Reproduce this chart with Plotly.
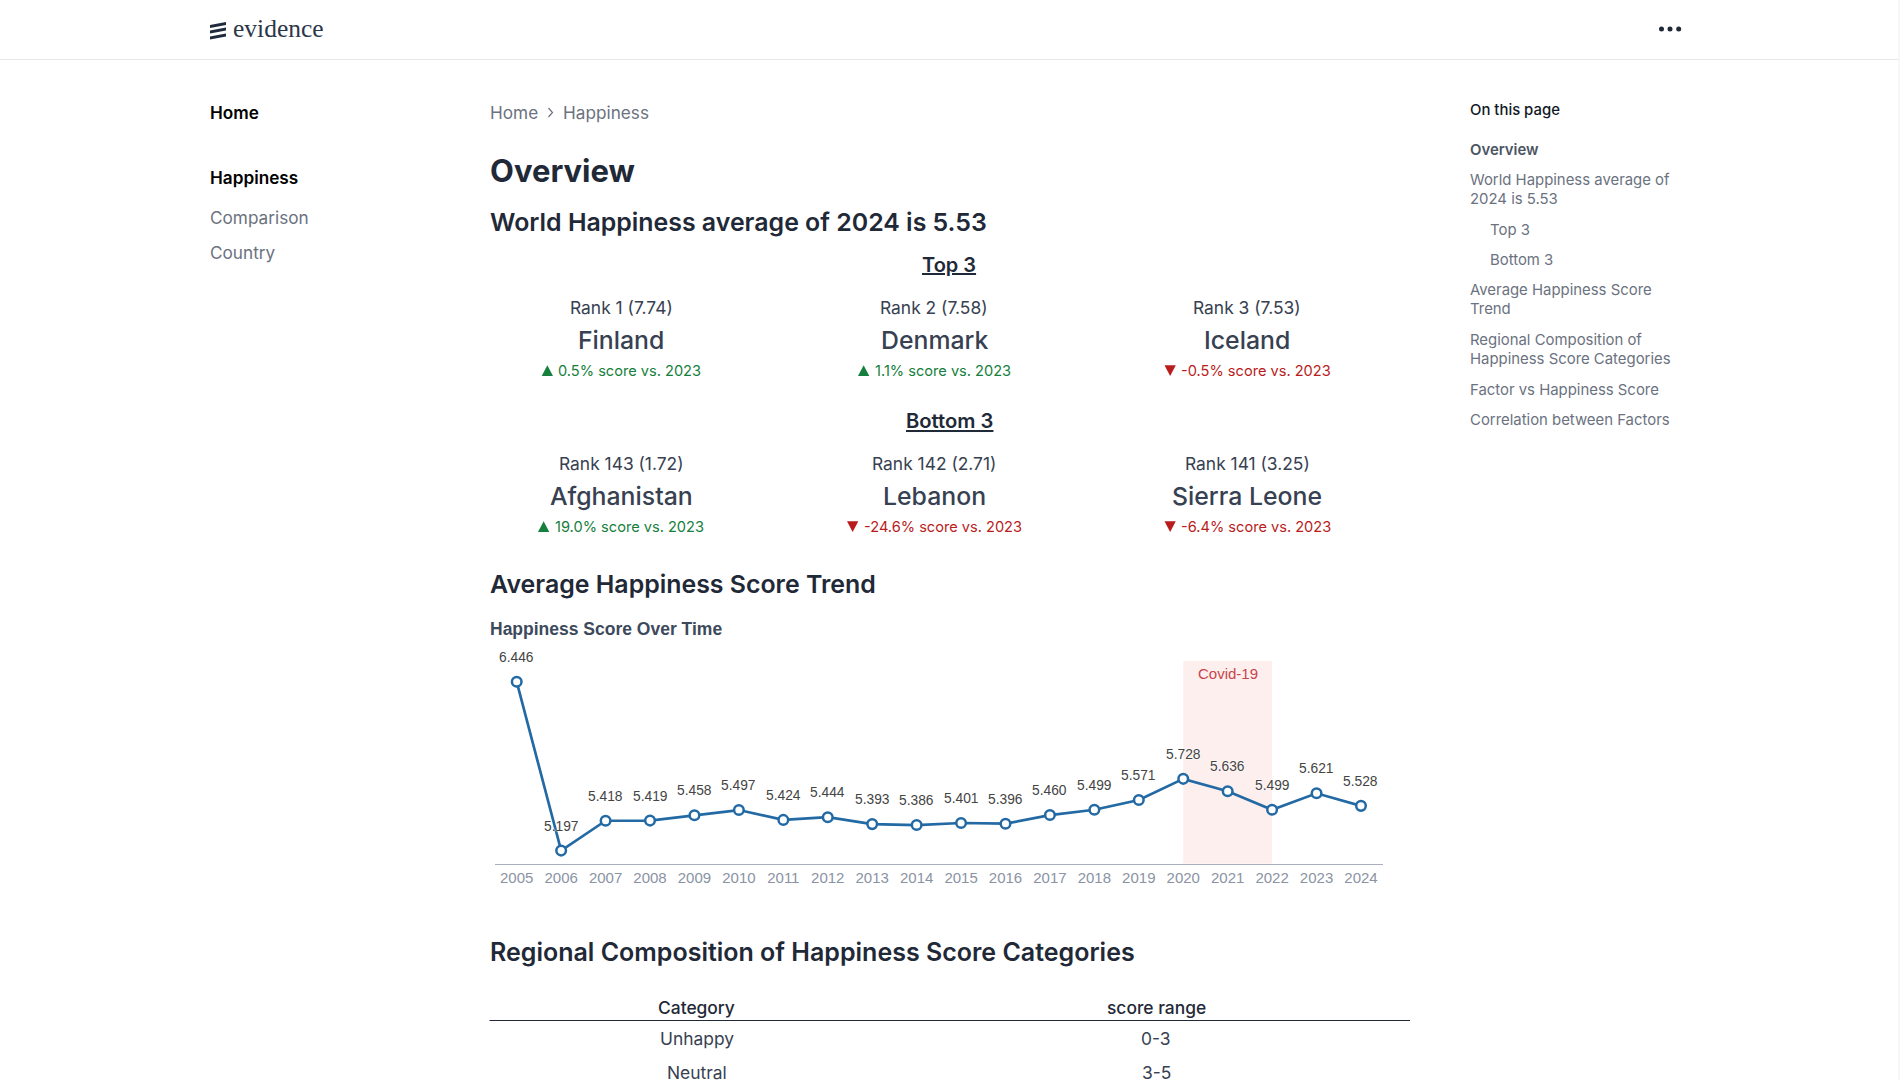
import plotly.graph_objects as go

W, H = 1900, 1080

years = [str(y) for y in [2005,2006,2007,2008,2009,2010,2011,2012,2013,2014,2015,2016,2017,2018,2019,2020,2021,2022,2023,2024]]
scores = [6.446,5.197,5.418,5.419,5.458,5.497,5.424,5.444,5.393,5.386,5.401,5.396,5.460,5.499,5.571,5.728,5.636,5.499,5.621,5.528]
covid_start, covid_mid, covid_end = "2020", "2021", "2022"

top_ranks = ["Rank 1 (7.74)", "Rank 2 (7.58)", "Rank 3 (7.53)"]
top_names = ["Finland", "Denmark", "Iceland"]
top_deltas = [0.5, 1.1, -0.5]
bottom_ranks = ["Rank 143 (1.72)", "Rank 142 (2.71)", "Rank 141 (3.25)"]
bottom_names = ["Afghanistan", "Lebanon", "Sierra Leone"]
bottom_deltas = [19.0, -24.6, -6.4]

table_header = ["Category", "score range"]
table_categories = ["Unhappy", "Neutral"]
table_ranges = ["0-3", "3-5"]

toc_items = ["Overview", "World Happiness average of<br>2024 is 5.53", "Top 3", "Bottom 3",
             "Average Happiness Score<br>Trend", "Regional Composition of<br>Happiness Score Categories",
             "Factor vs Happiness Score", "Correlation between Factors"]

INTER = "Inter"
ARIAL = "Liberation Sans"
INK = "#1f2937"
BODY = "#374151"
GREY = "#6b7280"
GREEN = "#15803d"
RED = "#b91c1c"
BLUE = "#236aa4"

annotations, shapes = [], []

def label(x, y, text, size, color, weight=400, anchor="left", family=INTER, **font_extra):
    annotations.append(dict(
        x=x / W, y=1 - y / H, xref="paper", yref="paper", text=text, showarrow=False,
        xanchor=anchor, yanchor="middle", align=anchor, borderpad=0, borderwidth=0,
        font=dict(family=family, size=size, color=color, weight=weight, **font_extra)))

def px_path(path, fill):
    shapes.append(dict(type="path", path=path, xref="paper", yref="paper", fillcolor=fill,
                       line=dict(width=0), layer="above"))

def P(x, y):
    return f"{x / W:.5f},{1 - y / H:.5f}"

def hline(x0, x1, y, color, width):
    shapes.append(dict(type="line", xref="paper", yref="paper", x0=x0 / W, x1=x1 / W,
                       y0=1 - y / H, y1=1 - y / H, line=dict(color=color, width=width)))

# header
hline(0, 1898, 59.5, "#e5e7eb", 1.2)
shapes.append(dict(type="line", xref="paper", yref="paper", x0=1899 / W, x1=1899 / W, y0=0, y1=1,
                   line=dict(color="#efefef", width=1)))
for yy in (25, 30.5, 36.5):
    px_path("M " + P(210, yy) + " L " + P(218, yy - 1.5) + " L " + P(226, yy - 3) + " L " + P(226, yy)
            + " L " + P(218, yy + 1.5) + " L " + P(210, yy + 3) + " Z", "#1f2b3d")
label(233, 28.5, "evidence", 25.5, "#2b3648", family="Liberation Serif")
for cx in (1661.5, 1670, 1678.7):
    shapes.append(dict(type="circle", xref="paper", yref="paper", x0=(cx - 2.5) / W, x1=(cx + 2.5) / W,
                       y0=1 - 31.5 / H, y1=1 - 26.5 / H, fillcolor="#1f2937", line=dict(width=0)))

# left nav
label(209.6, 112.7, "Home", 17.2, "#000000", 600)
label(209.6, 177.5, "Happiness", 17.2, "#000000", 600)
label(209.6, 218, "Comparison", 17.2, GREY)
label(209.6, 252, "Country", 17.2, GREY)

# breadcrumb and headings
label(489.5, 112.7, "Home", 17.2, GREY)
label(563, 112.7, "Happiness", 17.2, GREY)
px_path("M " + P(548.5, 108) + " L " + P(552.5, 112.5) + " L " + P(548.5, 117), "rgba(0,0,0,0)")
shapes[-1]["line"] = dict(color=GREY, width=1.2)
label(489.5, 170, "Overview", 31, INK, 700)
label(489.5, 222.5, "World Happiness average of 2024 is 5.53", 24.9, INK, 600)
label(949, 264.6, "Top 3", 20, INK, 600, anchor="center", lineposition="under")
label(949, 420.6, "Bottom 3", 20.2, INK, 600, anchor="center", lineposition="under")
label(489.5, 584, "Average Happiness Score Trend", 24.9, INK, 600)
label(489.5, 952, "Regional Composition of Happiness Score Categories", 25, INK, 600)

# KPI cards
centres = [621, 934.2, 1247.4]
tri_left_top = [541.7, 858, 1164.5]
tri_left_bot = [538, 847, 1164.5]

def card(cx, tri_x, rank, name, delta, y_rank):
    y_name, y_delta = y_rank + 32.5, y_rank + 63
    label(cx, y_rank, rank, 17.4, BODY, anchor="center")
    label(cx, y_name, name, 24.8, BODY, 500, anchor="center")
    col = GREEN if delta >= 0 else RED
    if delta >= 0:
        px_path("M " + P(tri_x, y_delta + 5.5) + " L " + P(tri_x + 11.3, y_delta + 5.5) + " L "
                + P(tri_x + 5.65, y_delta - 5.2) + " Z", col)
    else:
        px_path("M " + P(tri_x, y_delta - 5.2) + " L " + P(tri_x + 11.3, y_delta - 5.2) + " L "
                + P(tri_x + 5.65, y_delta + 5.5) + " Z", col)
    label(tri_x + 16.6, y_delta, f"{delta:.1f}% score vs. 2023", 14.6, col)

for i in range(3):
    card(centres[i], tri_left_top[i], top_ranks[i], top_names[i], top_deltas[i], 307.5)
    card(centres[i], tri_left_bot[i], bottom_ranks[i], bottom_names[i], bottom_deltas[i], 463.5)

# table
label(696.7, 1007, table_header[0], 17.4, INK, 500, anchor="center")
label(1156, 1007, table_header[1], 17.4, INK, 500, anchor="center")
hline(489.5, 1410, 1020.5, INK, 1.2)
for yy, c, r in zip((1038.5, 1072.5), table_categories, table_ranges):
    label(696.7, yy, c, 17.4, BODY, anchor="center")
    label(1156, yy, r, 17.4, BODY, anchor="center")

# right TOC
label(1470, 109.8, "On this page", 14.9, "#111827", 500)
toc_y = [149.5, 189.5, 229.5, 259.5, 299.7, 349.5, 389.5, 419.5]
toc_x = [1470, 1470, 1490, 1490, 1470, 1470, 1470, 1470]
for i, t in enumerate(toc_items):
    label(toc_x[i], toc_y[i], t, 14.9, "#4b5563" if i == 0 else GREY, 600 if i == 0 else 400)

# chart title
label(490, 628.5, "Happiness Score Over Time", 17.5, "#3d4a5c", 700, family=ARIAL)

# chart: band, line, labels (category axes take positions as category indices)
shapes.append(dict(type="rect", xref="x", yref="y domain", x0=years.index(covid_start), x1=years.index(covid_end),
                   y0=0, y1=1, fillcolor="#fcefee", line=dict(width=0), layer="below"))
annotations.append(dict(x=years.index(covid_mid), y=1, xref="x", yref="y domain", yshift=-12, text="Covid-19",
                        showarrow=False, xanchor="center", yanchor="middle", borderwidth=0,
                        font=dict(family=ARIAL, size=15, color="#c8444c")))
for i, s in enumerate(scores):
    annotations.append(dict(x=i, y=s, xref="x", yref="y", yshift=24.5, text=f"{s:.3f}", showarrow=False,
                            xanchor="center", yanchor="middle", borderwidth=0,
                            font=dict(family=ARIAL, size=13.8, color="#444444",
                                      shadow="0 0 2px #fff, 0 0 2px #fff")))

fig = go.Figure(go.Scatter(
    x=years, y=scores, mode="lines+markers", cliponaxis=False,
    line=dict(color=BLUE, width=2.7),
    marker=dict(symbol="circle", size=9.6, color="white", line=dict(color=BLUE, width=2.5)),
    hoverinfo="x+y", showlegend=False))

fig.update_layout(
    width=W, height=H, autosize=False, margin=dict(l=0, r=0, t=0, b=0),
    paper_bgcolor="white", plot_bgcolor="rgba(0,0,0,0)", showlegend=False,
    font=dict(family=INTER),
    xaxis=dict(type="category", domain=[494.5 / W, 1383.2 / W], range=[-0.5, 19.5], showgrid=False,
               showline=True, linecolor="#aab0bb", linewidth=1.3, ticks="", zeroline=False,
               tickfont=dict(family=ARIAL, size=15, color="#8a93a3"), tickangle=0, ticklabelstandoff=0),
    yaxis=dict(domain=[1 - 863.7 / H, 1 - 661 / H], range=[5.1, 6.6], visible=False, showgrid=False),
    annotations=annotations, shapes=shapes)

fig.write_html("out.html", config={"displayModeBar": False},
               post_script="document.body.style.margin='0';document.body.style.overflow='hidden';")
